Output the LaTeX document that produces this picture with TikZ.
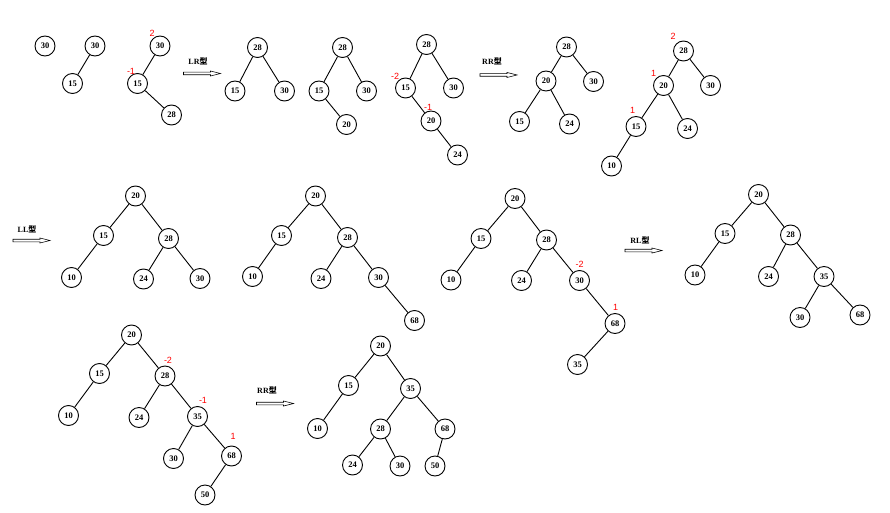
\documentclass[tikz,border=0pt]{standalone}
\usepackage{fontspec}
\setmainfont{Liberation Serif}
\newfontfamily\cjk{Noto Sans CJK SC}
\newfontfamily\lblfont{Liberation Sans}
\begin{document}
\begin{tikzpicture}[x=1pt,y=-1pt,
  tn/.style={circle,draw,line width=0.9pt,minimum size=20pt,inner sep=0pt,font=\fontsize{8.5}{9}\selectfont\bfseries},
  ed/.style={line width=0.9pt},
  bf/.style={text=red,font=\lblfont\fontsize{9}{10}\selectfont,inner sep=0pt},
  rt/.style={font=\fontsize{8}{9}\selectfont\bfseries,inner sep=0pt},
  blk/.style={draw,line width=0.6pt,fill=white}]
\useasboundingbox (0,0) rectangle (890,513);
\newcommand{\blockarrow}[1]{\draw[blk] (#1) ++(0,-1.3) -- ++(27,0) -- ++(0,-1.2) -- ++(10,2.5) -- ++(-10,2.5) -- ++(0,-1.2) -- ++(-27,0) -- cycle;}
% tree 1
\node[tn] (a1) at (45,46) {30};
% tree 2
\node[tn] (b1) at (95,46) {30};
\node[tn] (b2) at (72.5,83.5) {15};
\draw[ed] (b1) -- (b2);
% tree 3
\node[tn] (c1) at (160,46) {30};
\node[tn] (c2) at (137.5,83.5) {15};
\node[tn] (c3) at (171.5,115) {28};
\draw[ed] (c1) -- (c2) (c2) -- (c3);
\node[bf] (c1l) at (152,33.5) {2};
\node[bf] (c2l) at (131,71.5) {-1};
% arrow LR
\node[rt] (ar1l) at (198,61.5) {LR{\cjk 型}};
\coordinate (ar1) at (183.5,73.5);
\blockarrow{ar1}
% tree 4
\node[tn] (d1) at (257.5,47.5) {28};
\node[tn] (d2) at (235,91) {15};
\node[tn] (d3) at (284.5,91) {30};
\draw[ed] (d1) -- (d2) (d1) -- (d3);
% tree 5
\node[tn] (e1) at (342.5,47.5) {28};
\node[tn] (e2) at (319,91) {15};
\node[tn] (e3) at (366.5,91) {30};
\node[tn] (e4) at (346.5,124.5) {20};
\draw[ed] (e1) -- (e2) (e1) -- (e3) (e2) -- (e4);
% tree 6
\node[tn] (f1) at (426.5,44.5) {28};
\node[tn] (f2) at (405.5,88) {15};
\node[tn] (f3) at (453.5,88) {30};
\node[tn] (f4) at (431,121) {20};
\node[tn] (f5) at (457.5,155) {24};
\draw[ed] (f1) -- (f2) (f1) -- (f3) (f2) -- (f4) (f4) -- (f5);
\node[bf] (f2l) at (395,76.5) {-2};
\node[bf] (f4l) at (428,107.5) {-1};
% arrow RR
\node[rt] (ar2l) at (492,61.5) {RR{\cjk 型}};
\coordinate (ar2) at (480,75);
\blockarrow{ar2}
% tree 7
\node[tn] (g1) at (566.5,47) {28};
\node[tn] (g2) at (546,81) {20};
\node[tn] (g3) at (593.5,81.5) {30};
\node[tn] (g4) at (519.5,121.5) {15};
\node[tn] (g5) at (569.5,124) {24};
\draw[ed] (g1) -- (g2) (g1) -- (g3) (g2) -- (g4) (g2) -- (g5);
% tree 8
\node[tn] (h1) at (683.5,51) {28};
\node[tn] (h2) at (663.5,85.5) {20};
\node[tn] (h3) at (710.5,85.5) {30};
\node[tn] (h4) at (636,126.5) {15};
\node[tn] (h5) at (687.5,128.5) {24};
\node[tn] (h6) at (611.5,166) {10};
\draw[ed] (h1) -- (h2) (h1) -- (h3) (h2) -- (h4) (h2) -- (h5) (h4) -- (h6);
\node[bf] (h1l) at (673,36) {2};
\node[bf] (h2l) at (653.5,73.5) {1};
\node[bf] (h4l) at (632.5,110) {1};
% arrow LL
\node[rt] (ar3l) at (27,229) {LL{\cjk 型}};
\coordinate (ar3) at (13,240.5);
\blockarrow{ar3}
% tree 9
\node[tn] (i1) at (135.5,196) {20};
\node[tn] (i2) at (103.5,235.5) {15};
\node[tn] (i3) at (168.5,238.5) {28};
\node[tn] (i4) at (71.5,277.5) {10};
\node[tn] (i5) at (143.5,279) {24};
\node[tn] (i6) at (200,278.5) {30};
\draw[ed] (i1) -- (i2) (i1) -- (i3) (i2) -- (i4) (i3) -- (i5) (i3) -- (i6);
% tree 10
\node[tn] (j1) at (315.5,196) {20};
\node[tn] (j2) at (281.5,235.5) {15};
\node[tn] (j3) at (347.5,237.5) {28};
\node[tn] (j4) at (252.5,276.5) {10};
\node[tn] (j5) at (321,278.5) {24};
\node[tn] (j6) at (378.5,277.5) {30};
\node[tn] (j7) at (414.5,320.5) {68};
\draw[ed] (j1) -- (j2) (j1) -- (j3) (j2) -- (j4) (j3) -- (j5) (j3) -- (j6) (j6) -- (j7);
% tree 11
\node[tn] (k1) at (515,198.5) {20};
\node[tn] (k2) at (481,238.5) {15};
\node[tn] (k3) at (546.5,240) {28};
\node[tn] (k4) at (451,280) {10};
\node[tn] (k5) at (521.5,280.5) {24};
\node[tn] (k6) at (579.5,280.5) {30};
\node[tn] (k7) at (615,323.5) {68};
\node[tn] (k8) at (577.5,364.5) {35};
\draw[ed] (k1) -- (k2) (k1) -- (k3) (k2) -- (k4) (k3) -- (k5) (k3) -- (k6) (k6) -- (k7) (k7) -- (k8);
\node[bf] (k6l) at (579.5,264) {-2};
\node[bf] (k7l) at (615.5,307.5) {1};
% arrow RL
\node[rt] (ar4l) at (640,240) {RL{\cjk 型}};
\coordinate (ar4) at (625,250.5);
\blockarrow{ar4}
% tree 12
\node[tn] (l1) at (758.5,194.5) {20};
\node[tn] (l2) at (725,233.5) {15};
\node[tn] (l3) at (790.5,235) {28};
\node[tn] (l4) at (695,275) {10};
\node[tn] (l5) at (768.5,276.5) {24};
\node[tn] (l6) at (824,276.5) {35};
\node[tn] (l7) at (800,317.5) {30};
\node[tn] (l8) at (860,315) {68};
\draw[ed] (l1) -- (l2) (l1) -- (l3) (l2) -- (l4) (l3) -- (l5) (l3) -- (l6) (l6) -- (l7) (l6) -- (l8);
% tree 13
\node[tn] (m1) at (131.5,335) {20};
\node[tn] (m2) at (99.5,373.5) {15};
\node[tn] (m3) at (165,376) {28};
\node[tn] (m4) at (68.5,415.5) {10};
\node[tn] (m5) at (139,417.5) {24};
\node[tn] (m6) at (197.5,416.5) {35};
\node[tn] (m7) at (173.5,458.5) {30};
\node[tn] (m8) at (231.5,456) {68};
\node[tn] (m9) at (205,495) {50};
\draw[ed] (m1) -- (m2) (m1) -- (m3) (m2) -- (m4) (m3) -- (m5) (m3) -- (m6) (m6) -- (m7) (m6) -- (m8) (m8) -- (m9);
\node[bf] (m3l) at (168,360.5) {-2};
\node[bf] (m6l) at (203,400) {-1};
\node[bf] (m8l) at (233,436.5) {1};
% arrow RR
\node[rt] (ar5l) at (267,390) {RR{\cjk 型}};
\coordinate (ar5) at (256.5,403.5);
\blockarrow{ar5}
% tree 14
\node[tn] (n1) at (380.5,346) {20};
\node[tn] (n2) at (348.5,385.5) {15};
\node[tn] (n3) at (410.5,388.5) {35};
\node[tn] (n4) at (317.5,428.5) {10};
\node[tn] (n5) at (380.5,429) {28};
\node[tn] (n6) at (445,429) {68};
\node[tn] (n7) at (352.5,465) {24};
\node[tn] (n8) at (400,466) {30};
\node[tn] (n9) at (435,466) {50};
\draw[ed] (n1) -- (n2) (n1) -- (n3) (n2) -- (n4) (n3) -- (n5) (n3) -- (n6) (n5) -- (n7) (n5) -- (n8) (n6) -- (n9);
\end{tikzpicture}
\end{document}
